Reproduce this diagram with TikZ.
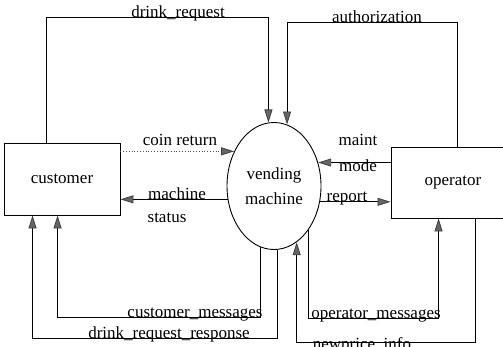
\documentclass[tikz,border=0pt]{standalone}
\usepackage{fontspec}
\setmainfont{Liberation Serif}
\usetikzlibrary{arrows.meta,calc,shapes.geometric}
\begin{document}
\begin{tikzpicture}[x=1pt,y=-1pt,
  txt/.style={font=\fontsize{17}{20}\selectfont},
  box/.style={txt,draw,line width=0.9pt,inner sep=0pt,minimum width=116pt,minimum height=72pt},
  flow/.style={line width=0.8pt,-{Triangle[length=13pt,width=8pt,fill=black!60,color=black!75]}},
  dflow/.style={flow,dotted,black!70},
  lbl/.style={txt,inner sep=0pt}]
\useasboundingbox (0,0) rectangle (503,346);

% nodes
\node[box] (customer) at (62,179) {customer};
\node[box,minimum width=124pt,minimum height=71pt] (operator) at (453,182.5) {operator};
\node[txt,draw,ellipse,line width=0.9pt,inner sep=0pt,minimum width=94pt,minimum height=127pt,align=center]
  (vm) at (274,186) {vending\\[5pt]machine};

% named turning points
\coordinate (cmc) at ($(customer.south west)+(54,102)$);
\coordinate (drc) at ($(customer.south west)+(29,123)$);
\coordinate (omc) at ($(operator.south west)+(48,100)$);
\coordinate (npc) at ($(operator.south west)+(85,124)$);

% connectors
\draw[flow] ($(customer.north west)+(43,0)$) |- (vm.95.5 |- 0,17) -- (vm.95.5);
\draw[flow] ($(operator.north west)+(67,0)$) |- (vm.78.9 |- 0,22) -- (vm.78.9);
\draw[dflow] (vm.139.4 -| customer.east) -- (vm.139.4);
\draw[flow] (vm.196.9) -- (vm.196.9 -| customer.east);
\draw[flow] (vm.28.9 -| operator.west) -- (vm.28.9);
\draw[flow] (vm.-19.4) -- (vm.-19.4 -| operator.west);
\draw[flow] (vm.257.9) |- (cmc) -- ($(customer.south west)+(54,0)$);
\draw[flow] (vm.273.6) |- (drc) -- ($(customer.south west)+(29,0)$);
\draw[flow] (vm.308) |- (omc) -- ($(operator.south west)+(48,0)$);
\draw[flow] ($(operator.south west)+(85,0)$) -- (npc) -| (vm.292.7);

% labels
\node[lbl,anchor=base] (l1) at (178,17) {drink\_request};
\node[lbl,anchor=base] (l2) at (377,22) {authorization};
\node[lbl] (l3) at (180,140) {coin return};
\node[lbl,anchor=base] (l4) at (177,199) {machine};
\node[lbl] (l5) at (167,218) {status};
\node[lbl] (l6) at (358,140) {maint};
\node[lbl] (l7) at (358,166) {mode};
\node[lbl,anchor=base] (l8) at (347,201) {report};
\node[lbl,anchor=base] (l9) at (195,317) {customer\_messages};
\node[lbl,anchor=base] (l10) at (169,338) {drink\_request\_response};
\node[lbl,anchor=base] (l11) at (376,318) {operator\_messages};
\node[lbl,anchor=base] (l12) at (362,349) {newprice\_info};
\end{tikzpicture}
\end{document}
